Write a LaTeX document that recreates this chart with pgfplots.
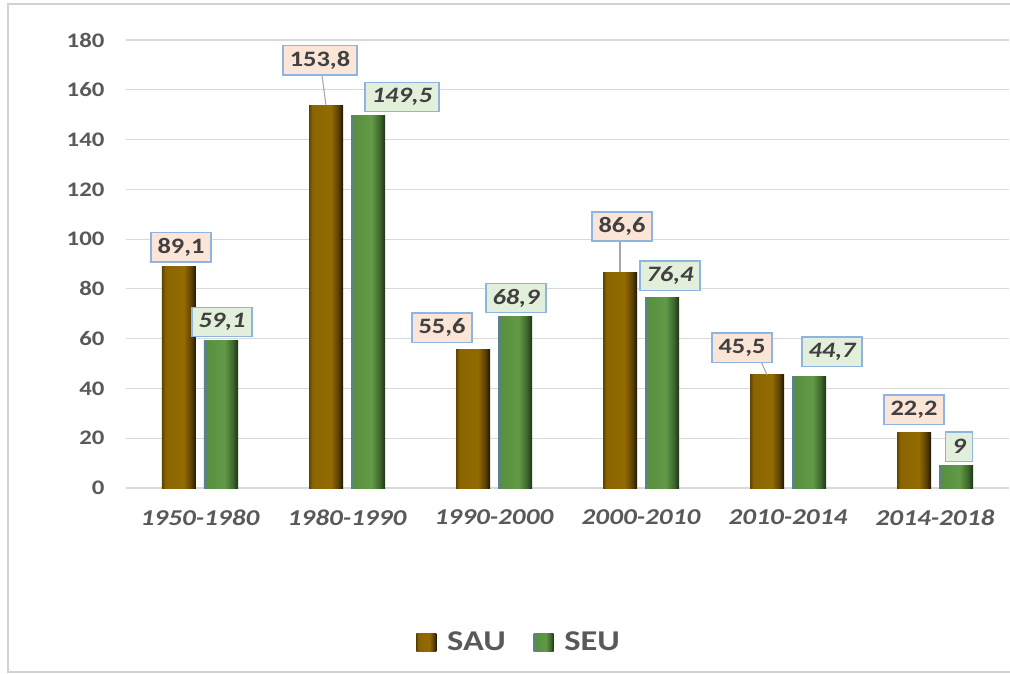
\documentclass[border=0pt]{standalone}
\usepackage{pgfplots}
\pgfplotsset{compat=1.18}
\usepackage{pgfplotstable}
\usepackage{fontspec}
\setmainfont{Carlito}[FakeStretch=1.2]

\definecolor{gridgray}{HTML}{D9D9D9}
\definecolor{ticktext}{HTML}{595959}
\definecolor{labeltext}{HTML}{404040}
\definecolor{boxborder}{HTML}{8EB4E3}
\definecolor{sauBox}{HTML}{FBE5D6}
\definecolor{seuBox}{HTML}{E2EFDA}

% bar colours across the bar width (visible part of a TikZ shading is 25bp..75bp)
\definecolor{sauA}{HTML}{5E4400}
\definecolor{sauB}{HTML}{8A6500}
\definecolor{sauC}{HTML}{936B02}
\definecolor{sauD}{HTML}{5C4200}
\definecolor{sauE}{HTML}{1E1600}
\definecolor{seuA}{HTML}{5B7F9A}
\definecolor{seuB}{HTML}{58903F}
\definecolor{seuC}{HTML}{629A48}
\definecolor{seuD}{HTML}{3F6A2E}
\definecolor{seuE}{HTML}{1F3318}
\pgfdeclarehorizontalshading{saubar}{100bp}{color(0bp)=(sauA); color(25bp)=(sauA);
  color(30bp)=(sauB); color(57bp)=(sauC); color(68bp)=(sauD); color(75bp)=(sauE); color(100bp)=(sauE)}
\pgfdeclarehorizontalshading{seubar}{100bp}{color(0bp)=(seuA); color(25bp)=(seuA);
  color(30bp)=(seuB); color(55bp)=(seuC); color(67bp)=(seuD); color(75bp)=(seuE); color(100bp)=(seuE)}

% period index and values of both series
\pgfplotstableread{
x  SAU    SEU
0  89.1   59.1
1  153.8  149.5
2  55.6   68.9
3  86.6   76.4
4  45.5   44.7
5  22.2   9
}\periods

\tikzset{
  callout/.style={draw=boxborder, line width=1.1pt, text=labeltext,
    inner xsep=5pt, minimum height=22pt, anchor=center},
  saulab/.style={callout, fill=sauBox, font=\fontsize{16.5}{19}\selectfont\bfseries},
  seulab/.style={callout, fill=seuBox, font=\fontsize{16.5}{19}\selectfont\bfseries\itshape},
}
% #1 period, #2 value, #3 dx (px), #4 dy (px) from the period centre at the value, #5 style
\newcommand{\callout}[5]{%
  \node[#5] at ([xshift=#3*0.75pt, yshift=#4*0.75pt]axis cs:#1,#2)
    {\pgfmathprintnumber[use comma]{#2}};}

\begin{document}
\begin{tikzpicture}
\begin{axis}[
  at={(0,0)}, anchor=south west,
  scale only axis,
  width=661.5pt, height=336pt,
  ybar, bar width=25.5pt,
  xmin=-0.5, xmax=5.5,
  ymin=0, ymax=180,
  ytick={0,20,...,180},
  xtick={0,...,5},
  xticklabels={1950-1980,1980-1990,1990-2000,2000-2010,2010-2014,2014-2018},
  axis line style={draw=none},
  major tick length=0pt,
  ymajorgrids,
  grid style={gridgray, line width=0.9pt},
  /pgf/number format/assume math mode=true,
  yticklabel style={font=\fontsize{15.5}{18}\selectfont\bfseries, text=ticktext, xshift=-13pt},
  xticklabel style={font=\fontsize{17}{20}\selectfont\bfseries\itshape, text=ticktext, yshift=-12.5pt},
  legend style={at={(0.4456,-0.344)}, anchor=center, draw=none, fill=none,
    font=\fontsize{21.5}{25}\selectfont\bfseries, text=ticktext,
    /tikz/every odd column/.append style={column sep=6pt},
    /tikz/every even column/.append style={column sep=19pt}},
  legend columns=2,
  legend image code/.code={\path[#1] (0pt,-6.75pt) rectangle (15pt,6.75pt);},
  clip=false,
]
% each bar is its own path, so every bar carries the full shading
\pgfplotsinvokeforeach{0,...,5}{
  \addplot[draw=none, shading=saubar, bar shift=-15.75pt, forget plot,
    restrict x to domain=#1:#1] table[x=x, y=SAU] {\periods};
  \addplot[draw=none, shading=seubar, bar shift=15.75pt, forget plot,
    restrict x to domain=#1:#1] table[x=x, y=SEU] {\periods};
}
\addlegendimage{draw=none, shading=saubar}
\addlegendentry{SAU}
\addlegendimage{draw=none, shading=seubar}
\addlegendentry{SEU}

% leader lines from the offset callouts to their bars
\draw[gray!70, line width=0.8pt] ([xshift=-18.75pt, yshift=22.5pt]axis cs:1,153.8) -- ([xshift=-15.75pt]axis cs:1,153.8);
\draw[gray!70, line width=0.8pt] ([xshift=-15.75pt, yshift=24pt]axis cs:3,86.6) -- ([xshift=-15.75pt]axis cs:3,86.6);
\draw[gray!70, line width=0.8pt] ([xshift=-20pt, yshift=9.5pt]axis cs:4,45.5) -- ([xshift=-15.75pt]axis cs:4,45.5);

% value callouts
\callout{0}{89.1}{-19}{19}{saulab}
\callout{1}{153.8}{-27}{45}{saulab}
\callout{2}{55.6}{-52}{22}{saulab}
\callout{3}{86.6}{-19}{46}{saulab}
\callout{4}{45.5}{-46}{27}{saulab}
\callout{5}{22.2}{-21}{23}{saulab}
\callout{0}{59.1}{22}{19}{seulab}
\callout{1}{149.5}{55}{19}{seulab}
\callout{2}{68.9}{22}{18.5}{seulab}
\callout{3}{76.4}{29}{22}{seulab}
\callout{4}{44.7}{44}{25}{seulab}
\callout{5}{9}{24}{19}{seulab}
\end{axis}

% outer chart frame
\draw[gray!35, line width=1.5pt] (667.5pt,363pt) -- (-88.875pt,363pt) -- (-88.875pt,-138pt) -- (667.5pt,-138pt);

\pgfresetboundingbox
\useasboundingbox (-94.875pt,-139.5pt) rectangle (662.625pt,366pt);
\end{tikzpicture}
\end{document}
